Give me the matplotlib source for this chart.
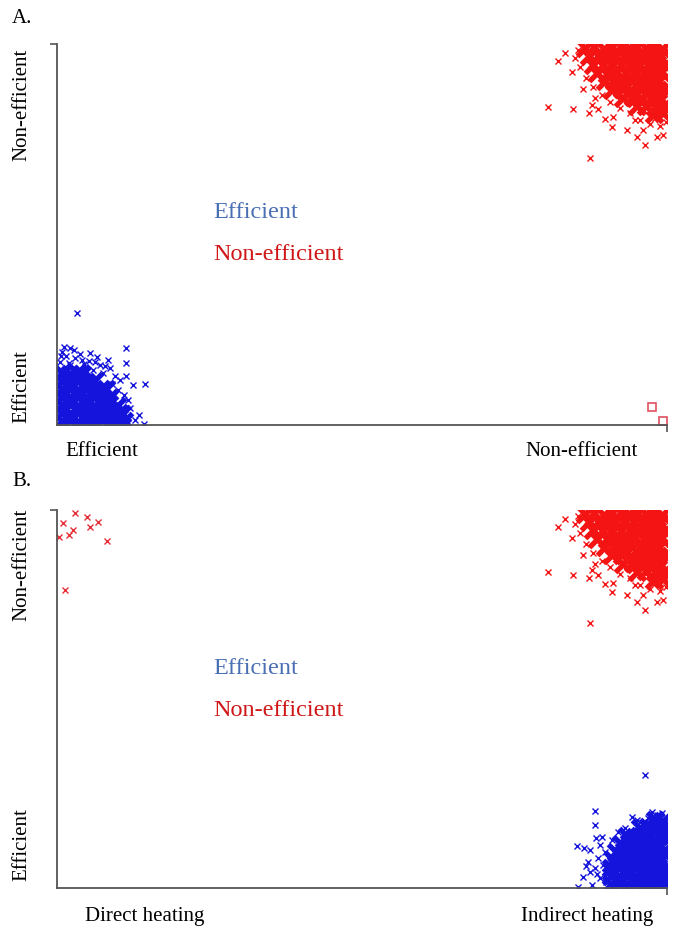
#!/usr/bin/env python3
# two-panel efficiency scatter (A: efficiency vs efficiency, B: heating type)
import matplotlib
matplotlib.use("Agg")
import matplotlib.pyplot as plt

plt.rcParams['font.family'] = ['Liberation Serif', 'DejaVu Serif']

# units: score 0..100 on both axes

# dense non-efficient core (same in A and B)
red_core_x = [86.5, 88.1, 89.6, 91.0, 92.4, 93.8, 95.1, 96.5, 97.9, 99.2,
              87.2, 88.8, 90.3, 91.7, 93.1, 94.6, 96.0, 97.4, 98.8,
              87.9, 89.5, 91.0, 92.5, 94.0, 95.4, 96.9, 98.3, 99.6,
              88.6, 90.2, 91.7, 93.2, 94.7, 96.2, 97.6, 99.0,
              89.8, 91.3, 92.8, 94.3, 95.8, 97.3, 98.7,
              91.0, 92.6, 94.1, 95.6, 97.1, 98.5, 99.7,
              92.8, 94.4, 95.9, 97.4, 98.8,
              95.0, 96.6, 98.1, 99.5,
              97.8, 99.3]
red_core_y = [99.0, 99.3, 98.8, 99.1, 99.4, 98.9, 99.2, 99.0, 99.3, 98.8,
              96.8, 97.1, 96.6, 96.9, 97.0, 96.7, 96.9, 97.1, 96.6,
              94.6, 94.4, 94.8, 94.5, 94.7, 94.3, 94.6, 94.8, 94.5,
              92.4, 92.2, 92.6, 92.3, 92.5, 92.4, 92.1, 92.6,
              90.2, 90.4, 90.0, 90.3, 90.1, 90.4, 90.2,
              88.0, 88.2, 87.9, 88.1, 88.0, 87.8, 88.2,
              85.8, 86.0, 85.6, 85.9, 85.7,
              83.6, 83.8, 83.5, 83.7,
              81.6, 81.8]
# scattered non-efficient points around that core
red_x = [80.5, 84.6, 82.1, 83.3, 87.4, 86.2, 84.4, 87.2, 88.7, 89.8,
         91.1, 91.0, 93.4, 95.1, 96.4, 98.4, 99.3, 96.1, 87.7, 88.2,
         85.4, 84.9, 85.7, 86.7, 87.9, 89.3, 90.7, 92.3, 93.9, 95.6,
         97.2, 98.9, 99.8, 98.0, 94.8]
red_y = [83.5, 82.9, 95.5, 97.6, 70.1, 88.2, 92.7, 81.9, 82.9, 80.3,
         80.8, 78.2, 77.4, 75.6, 73.5, 75.6, 76.1, 77.4, 84.0, 85.8,
         98.4, 96.3, 94.0, 91.1, 88.7, 86.6, 84.8, 83.2, 81.9, 80.1,
         79.0, 78.5, 79.5, 80.6, 80.1]

# panel A: efficient group, bottom-left
blue_a_core_x = [0.8, 2.1, 3.5, 4.8, 6.1, 7.4, 8.7, 9.9, 11.0,
                 0.9, 2.2, 3.6, 4.9, 6.2, 7.5, 8.8, 10.1, 10.7,
                 0.8, 2.1, 3.4, 4.7, 6.0, 7.3, 8.6, 9.8,
                 0.9, 2.2, 3.5, 4.8, 6.1, 7.3, 8.6,
                 0.8, 2.1, 3.4, 4.7, 5.9, 7.2, 8.0,
                 0.9, 2.2, 3.5, 4.8, 6.0,
                 0.8, 2.1, 3.3, 4.1]
blue_a_core_y = [1.0, 1.2, 0.9, 1.1, 1.0, 1.2, 0.9, 1.1, 1.0,
                 3.1, 3.0, 3.3, 3.1, 2.9, 3.2, 3.0, 3.2, 3.0,
                 5.2, 5.4, 5.1, 5.3, 5.0, 5.2, 5.4, 5.1,
                 7.3, 7.1, 7.4, 7.2, 7.3, 7.0, 7.2,
                 9.4, 9.6, 9.3, 9.5, 9.2, 9.4, 9.5,
                 11.5, 11.3, 11.6, 11.4, 11.5,
                 13.6, 13.4, 13.7, 13.5]
blue_a_x = [3.3, 2.1, 5.4, 11.3, 11.3, 11.3, 14.4, 12.5, 13.4, 14.3,
            11.6, 0.8, 1.5, 3.0, 4.1, 6.2, 7.0, 7.9, 8.7, 0.5,
            2.1, 4.6, 5.9, 7.5, 9.5, 10.3, 9.0, 10.0, 11.0, 11.6,
            10.3, 12.0, 11.1, 12.8, 10.0, 8.4, 1.2, 2.8, 0.6, 3.8,
            5.2, 6.6, 1.9, 4.4]
blue_a_y = [29.4, 20.2, 18.9, 20.2, 16.3, 12.9, 10.8, 10.5, 2.6, 0.2,
            0.8, 19.2, 18.1, 17.6, 17.1, 16.5, 15.7, 15.5, 15.0, 16.5,
            15.7, 15.2, 14.4, 13.6, 12.9, 11.8, 10.8, 9.2, 7.9, 6.6,
            5.2, 4.5, 2.9, 1.3, 1.8, 17.1, 20.5, 19.6, 18.0, 18.6,
            16.9, 17.8, 16.2, 15.9]
# two hollow squares at the far right of panel A
sq_x = [97.5, 99.3]
sq_y = [4.7, 1.0]

# panel B: direct heating, non-efficient (top-left)
red_b_x = [2.95, 4.9, 6.7, 1.0, 5.4, 2.6, 2.0, 0.3, 8.2, 1.3]
red_b_y = [99.2, 98.1, 96.8, 96.6, 95.5, 94.7, 93.4, 92.9, 91.8, 78.8]

# panel B: indirect heating, efficient (bottom-right)
blue_b_core_x = [90.8, 92.1, 93.4, 94.7, 96.0, 97.3, 98.6, 99.7,
                 90.9, 92.2, 93.5, 94.8, 96.1, 97.4, 98.7, 99.7,
                 90.8, 92.1, 93.4, 94.7, 96.0, 97.3, 98.6, 99.7,
                 91.2, 92.5, 93.8, 95.1, 96.4, 97.7, 99.0,
                 91.6, 92.9, 94.2, 95.5, 96.8, 98.1, 99.4,
                 92.4, 93.7, 95.0, 96.3, 97.6, 98.9,
                 93.5, 94.8, 96.1, 97.4, 98.7, 99.7,
                 95.6, 96.9, 98.2, 99.5,
                 98.0, 99.4]
blue_b_core_y = [1.1, 1.3, 1.0, 1.2, 1.1, 0.9, 1.2, 1.0,
                 3.2, 3.0, 3.3, 3.1, 3.4, 3.2, 3.0, 3.3,
                 5.3, 5.5, 5.2, 5.4, 5.1, 5.3, 5.5, 5.2,
                 7.4, 7.2, 7.5, 7.3, 7.4, 7.2, 7.5,
                 9.5, 9.7, 9.4, 9.6, 9.3, 9.5, 9.6,
                 11.6, 11.8, 11.5, 11.7, 11.6, 11.4,
                 13.8, 13.6, 13.9, 13.7, 13.8, 13.6,
                 15.9, 16.1, 15.8, 16.0,
                 18.0, 17.8]
blue_b_x = [96.4, 88.2, 88.2, 88.4, 85.2, 94.3, 97.5, 99.2, 86.2, 85.4,
            87.7, 95.1, 86.4, 87.4, 89.0, 89.8, 88.7, 89.5, 88.2, 87.4,
            89.0, 90.0, 91.0, 92.0, 93.1, 95.6, 96.9, 98.4, 99.7, 92.3,
            90.7, 87.0, 88.6, 86.8, 89.4]
blue_b_y = [29.9, 20.4, 16.7, 13.2, 11.1, 18.8, 20.1, 19.8, 2.9, 0.3,
            0.8, 18.0, 10.6, 10.1, 11.4, 9.5, 7.9, 6.1, 5.3, 4.2,
            2.6, 1.6, 12.7, 14.8, 15.9, 17.5, 18.5, 19.3, 18.5, 11.4,
            7.9, 7.0, 3.6, 5.8, 13.5]

RED = '#f41414'
BLUE = '#1414dc'


def setup_axes(ax):
    ax.set_xlim(0, 100)
    ax.set_ylim(0, 100)
    for s in ['top', 'right']:
        ax.spines[s].set_visible(False)
    for s in ['left', 'bottom']:
        ax.spines[s].set_color('#555555')
        ax.spines[s].set_linewidth(1.3)
    ax.set_xticks([100])
    ax.set_yticks([100])
    ax.tick_params(length=5, width=1.2, color='#555555',
                   labelbottom=False, labelleft=False)


def draw_cloud(ax, cx, cy, x, y, color):
    # heavy markers for the saturated core, thin ones for the fringe
    ax.plot(cx, cy, ls='none', marker='x', ms=11, mew=3.8, color=color)
    ax.plot(x, y, ls='none', marker='x', ms=4.5, mew=1.0, color=color)


fig = plt.figure(figsize=(6.77, 9.32), dpi=100)
ax_a = fig.add_axes([57/677, 1-425/932, 610/677, 381/932])
ax_b = fig.add_axes([57/677, 1-888/932, 610/677, 378/932])

# panel A
setup_axes(ax_a)
draw_cloud(ax_a, red_core_x, red_core_y, red_x, red_y, RED)
draw_cloud(ax_a, blue_a_core_x, blue_a_core_y, blue_a_x, blue_a_y, BLUE)
ax_a.plot(sq_x, sq_y, ls='none', marker='s', ms=6, mfc='none',
          mec='#e05060', mew=1.2, clip_on=False)

# panel B
setup_axes(ax_b)
draw_cloud(ax_b, red_core_x, red_core_y, red_x, red_y, RED)
ax_b.plot(red_b_x, red_b_y, ls='none', marker='x', ms=4.5, mew=1.0,
          color='#e8303a', clip_on=False)
draw_cloud(ax_b, blue_b_core_x, blue_b_core_y, blue_b_x, blue_b_y, BLUE)

# labels
lab = dict(fontsize=15, color='black')
fig.text(0.018, 0.990, 'A.', va='top', ha='left', fontsize=15)
fig.text(0.018, 0.4935, 'B.', va='top', ha='left', fontsize=15)

fig.text(0.0325, 1-105/932, 'Non-efficient', rotation=90, ha='center', va='center', **lab)
fig.text(0.0325, 1-387/932, 'Efficient', rotation=90, ha='center', va='center', **lab)
fig.text(0.0325, 1-565/932, 'Non-efficient', rotation=90, ha='center', va='center', **lab)
fig.text(0.0325, 1-845/932, 'Efficient', rotation=90, ha='center', va='center', **lab)

fig.text(102/677, 1-452/932, 'Efficient', ha='center', va='center', **lab)
fig.text(582/677, 1-452/932, 'Non-efficient', ha='center', va='center', **lab)
fig.text(145/677, 1-916/932, 'Direct heating', ha='center', va='center', **lab)
fig.text(587/677, 1-916/932, 'Indirect heating', ha='center', va='center', **lab)

leg = dict(fontsize=17.5, ha='left', va='center')
fig.text(213/677, 1-213/932, 'Efficient', color='#4a70b4', **leg)
fig.text(213/677, 1-255/932, 'Non-efficient', color='#d01818', **leg)
fig.text(213/677, 1-668/932, 'Efficient', color='#4a70b4', **leg)
fig.text(213/677, 1-710/932, 'Non-efficient', color='#d01818', **leg)

fig.savefig('out.png', dpi=100)
